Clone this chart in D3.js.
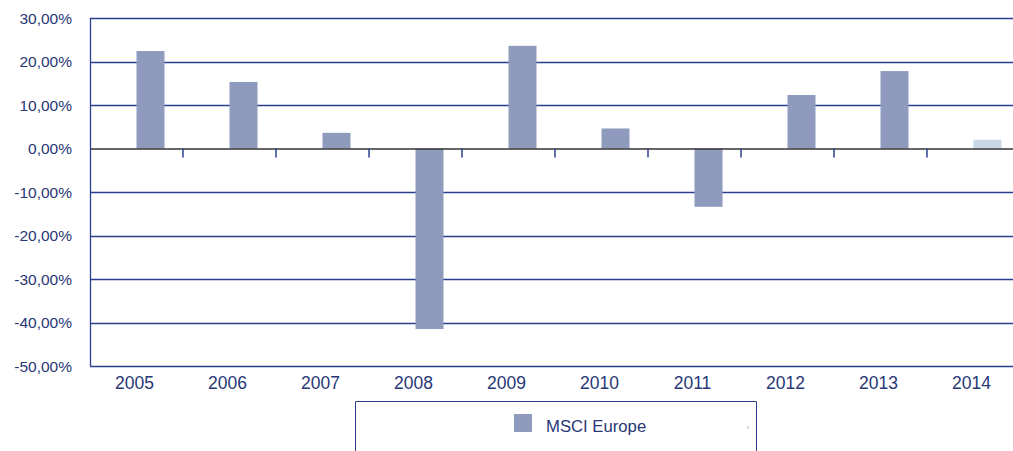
<!DOCTYPE html>
<html lang="en">
<head>
<meta charset="UTF-8">
<title>MSCI Europe</title>
<script src="https://d3js.org/d3.v7.min.js"></script>
<style>
    body { margin: 0; background: #fff; overflow: hidden; }
    text { font-family: "Liberation Sans", Arial, sans-serif; fill: #283776; }
</style>
</head>
<body>
<script>
// Data
const years = ["2005", "2006", "2007", "2008", "2009", "2010", "2011", "2012", "2013", "2014"];
const returns = [22.4, 15.3, 3.6, -41.5, 23.6, 4.6, -13.4, 12.3, 17.8, 2.0];
const yTicks = [30, 20, 10, 0, -10, -20, -30, -40, -50];

const width = 1013, height = 451;
const margin = { left: 90, top: 18, right: -7, bottom: 85 };

const svg = d3.select("body").append("svg").attr("width", width).attr("height", height);

const x = d3.scaleBand().domain(years).range([margin.left, width - margin.right]);
const y = d3.scaleLinear().domain([-50, 30]).range([height - margin.bottom, margin.top]);

const fmt = v => d3.format(".2f")(v).replace(".", ",").replace("\u2212", "-") + "%";

// Gridlines
svg.append("g").selectAll("line")
    .data(yTicks.filter(d => d !== 0))
    .join("line")
    .attr("x1", margin.left).attr("x2", width)
    .attr("y1", d => Math.round(y(d)) + 0.5).attr("y2", d => Math.round(y(d)) + 0.5)
    .attr("stroke", "#2c3f8f").attr("stroke-width", 1.3);

// Y labels
svg.append("g").selectAll("text")
    .data(yTicks)
    .join("text")
    .attr("x", 72).attr("y", d => y(d) + 5.5)
    .attr("text-anchor", "end")
    .attr("font-size", "15.5px")
    .text(fmt);

// Bars
const barW = 28;
svg.append("g").selectAll("rect")
    .data(years)
    .join("rect")
    .attr("x", d => x(d) + x.bandwidth() / 2)
    .attr("width", barW)
    .attr("y", (d, i) => y(Math.max(0, returns[i])))
    .attr("height", (d, i) => Math.abs(y(returns[i]) - y(0)))
    .attr("fill", (d, i) => d === "2014" ? "#c8d6e6" : "#8f9bbd");

// Zero line + ticks
svg.append("line")
    .attr("x1", margin.left).attr("x2", width)
    .attr("y1", y(0) + 0.5).attr("y2", y(0) + 0.5)
    .attr("stroke", "#333").attr("stroke-width", 1.5);
svg.append("g").selectAll("line")
    .data(years.slice(1))
    .join("line")
    .attr("x1", d => x(d)).attr("x2", d => x(d))
    .attr("y1", y(0)).attr("y2", y(0) + 9)
    .attr("stroke", "#2c3f8f").attr("stroke-width", 1.5);

// Left axis
svg.append("line")
    .attr("x1", margin.left + 0.5).attr("x2", margin.left + 0.5)
    .attr("y1", y(30)).attr("y2", y(-50))
    .attr("stroke", "#2c3f8f").attr("stroke-width", 1.3);

// X labels
svg.append("g").selectAll("text")
    .data(years)
    .join("text")
    .attr("x", d => x(d) + x.bandwidth() / 2 - 2)
    .attr("y", 389)
    .attr("text-anchor", "middle")
    .attr("font-size", "17.5px")
    .text(d => d);

// Legend
const legend = svg.append("g");
legend.append("path")
    .attr("d", "M355.5,452 V401.5 H756.5 V452")
    .attr("fill", "none").attr("stroke", "#2c3f8f").attr("stroke-width", 1);
legend.append("rect")
    .attr("x", 514).attr("y", 414).attr("width", 18).attr("height", 18)
    .attr("fill", "#8f9bbd");
legend.append("text")
    .attr("x", 546).attr("y", 432)
    .attr("font-size", "16.7px")
    .attr("font-family", "'Open Sans', sans-serif")
    .text("MSCI Europe");
legend.append("line")
    .attr("x1", 748).attr("x2", 748).attr("y1", 426).attr("y2", 429)
    .attr("stroke", "#bbb");
</script>
</body>
</html>
